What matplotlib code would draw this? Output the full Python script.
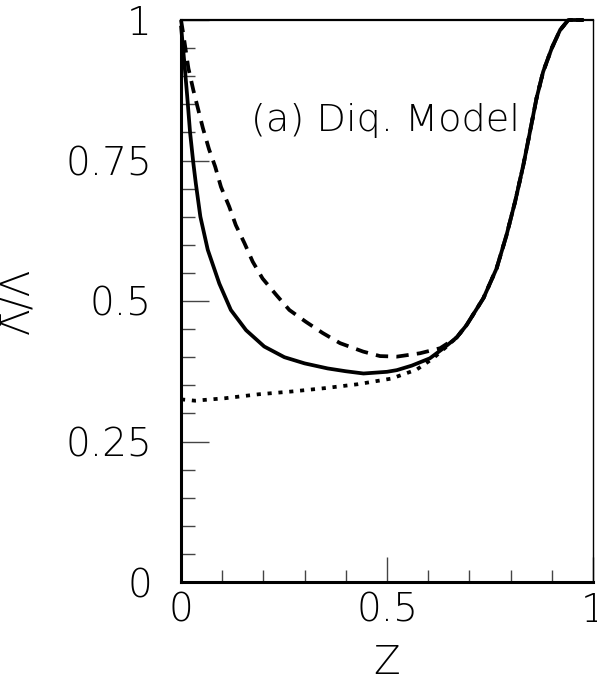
import matplotlib
matplotlib.use("Agg")
import matplotlib.pyplot as plt
from matplotlib.ticker import MultipleLocator

# Solid curve
solid_x = [0.0, 0.008, 0.015, 0.022, 0.030, 0.036, 0.047, 0.065, 0.093, 0.121, 0.158, 0.202, 0.251,
           0.30, 0.356, 0.40, 0.443, 0.50, 0.524, 0.56, 0.604, 0.637, 0.669, 0.693, 0.734, 0.766,
           0.79, 0.811, 0.831, 0.847, 0.863, 0.879, 0.90, 0.92, 0.94, 0.977]
solid_y = [0.99, 0.925, 0.865, 0.80, 0.745, 0.709, 0.650, 0.591, 0.531, 0.484, 0.448, 0.419, 0.400,
           0.389, 0.380, 0.375, 0.371, 0.374, 0.377, 0.385, 0.398, 0.416, 0.435, 0.457, 0.505, 0.558,
           0.617, 0.677, 0.742, 0.801, 0.861, 0.908, 0.950, 0.982, 1.0, 1.0]

# Dashed curve
dash_x = [0.0, 0.006, 0.018, 0.030, 0.041, 0.053, 0.068, 0.083, 0.097, 0.117, 0.133, 0.154, 0.174,
          0.198, 0.231, 0.263, 0.303, 0.344, 0.386, 0.442, 0.483, 0.524, 0.58, 0.629, 0.669, 0.693,
          0.734, 0.766, 0.79, 0.811, 0.831, 0.847, 0.863, 0.879, 0.90, 0.92, 0.94, 0.977]
dash_y = [1.0, 0.973, 0.914, 0.875, 0.843, 0.808, 0.770, 0.739, 0.703, 0.668, 0.635, 0.603, 0.570,
          0.540, 0.511, 0.484, 0.463, 0.443, 0.425, 0.41, 0.402, 0.401, 0.407, 0.416, 0.435, 0.457,
          0.505, 0.558, 0.617, 0.677, 0.742, 0.801, 0.861, 0.908, 0.950, 0.982, 1.0, 1.0]

# Dotted curve
dot_x = [0.0, 0.034, 0.107, 0.188, 0.269, 0.35, 0.43, 0.511, 0.572, 0.612, 0.637, 0.669, 0.693,
         0.734, 0.766, 0.79, 0.811, 0.831, 0.847, 0.863, 0.879, 0.90, 0.92, 0.94, 0.977]
dot_y = [0.325, 0.3226, 0.327, 0.334, 0.339, 0.345, 0.352, 0.362, 0.378, 0.398, 0.414, 0.435, 0.457,
         0.505, 0.558, 0.617, 0.677, 0.742, 0.801, 0.861, 0.908, 0.950, 0.982, 1.0, 1.0]

xticks = [0, 0.5, 1]
xticklabels = ["0", "0.5", "1"]
yticks = [0, 0.25, 0.5, 0.75, 1]
yticklabels = ["0", "0.25", "0.5", "0.75", "1"]

plt.rcParams['font.family'] = ['DejaVu Sans']
fw = 'ultralight'
fs = 28

fig = plt.figure(figsize=(5.97, 6.84), dpi=100)
ax = fig.add_axes([181/597, 1-582/684, 412/597, 562/684])

lw = 2.7
ax.plot(solid_x, solid_y, color='black', lw=lw, solid_capstyle='butt', clip_on=False)
ax.plot(dash_x, dash_y, color='black', lw=lw, dashes=(3.3, 2.2), clip_on=False)
ax.plot(dot_x, dot_y, color='black', lw=lw, dashes=(1.1, 1.8), clip_on=False)

ax.set_xlim(0, 1)
ax.set_ylim(0, 1)
ax.set_xticks(xticks)
ax.set_xticklabels(xticklabels, fontsize=fs, fontweight=fw)
ax.set_yticks(yticks)
ax.set_yticklabels(yticklabels, fontsize=fs, fontweight=fw)
ax.xaxis.set_minor_locator(MultipleLocator(0.1))
ax.yaxis.set_minor_locator(MultipleLocator(0.05))
ax.tick_params(axis='both', which='both', direction='in', top=False, right=False,
               width=1.0, color='#444444')
ax.tick_params(axis='y', which='major', length=20, pad=21)
ax.tick_params(axis='y', which='minor', length=10)
ax.tick_params(axis='x', which='major', length=18, pad=7)
ax.tick_params(axis='x', which='minor', length=9)

ax.spines['left'].set_linewidth(2.2)
ax.spines['bottom'].set_linewidth(2.2)
ax.spines['top'].set_linewidth(1.6)
ax.spines['right'].set_linewidth(1.0)

ax.set_xlabel("Z", fontsize=fs, fontweight=fw, labelpad=10)
ax.set_ylabel("Λ̄/Λ", fontsize=fs, fontweight=fw, labelpad=20)

ax.text(0.17, 0.822, "(a) Diq. Model", transform=ax.transAxes, fontsize=27.5,
        fontweight=fw, va='center', ha='left')

fig.savefig("out.png", dpi=100)
